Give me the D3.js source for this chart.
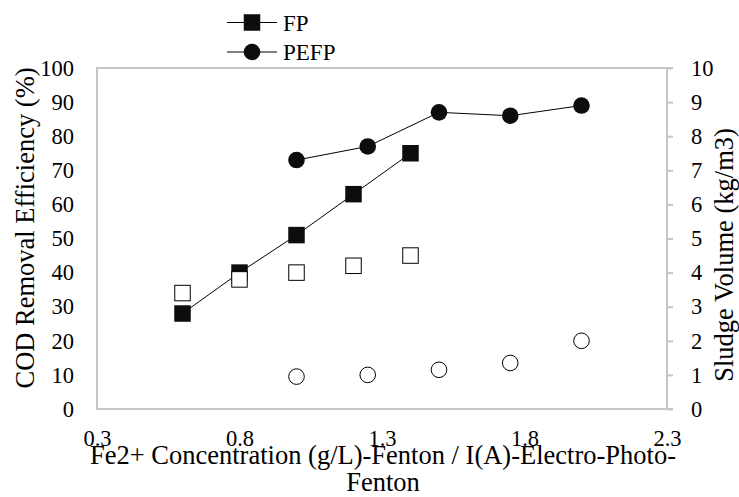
<!DOCTYPE html>
<html><head><meta charset="utf-8">
<script src="https://cdn.jsdelivr.net/npm/d3@7"></script>
<style>body{margin:0;background:#fff}svg{display:block}</style>
</head><body><svg id="c" width="739" height="497"></svg>
<script>
const fpX = [0.6, 0.8, 1.0, 1.2, 1.4];
const fpCOD = [28, 40, 51, 63, 75];
const fpSludge = [3.4, 3.8, 4.0, 4.2, 4.5];
const pefpX = [1.0, 1.25, 1.5, 1.75, 2.0];
const pefpCOD = [73, 77, 87, 86, 89];
const pefpSludge = [0.95, 1.0, 1.15, 1.35, 2.0];
const xTicks = [0.3, 0.8, 1.3, 1.8, 2.3];
const yLeftTicks = [0,10,20,30,40,50,60,70,80,90,100];
const yRightTicks = [0,1,2,3,4,5,6,7,8,9,10];
const seriesNames = ["FP", "PEFP"];

const FONT = "'Liberation Serif', 'Times New Roman', 'DejaVu Serif', serif";
const svg = d3.select("#c").style("font-family", FONT);
const L = 97, R = 667, T = 68, B = 409;
const x = d3.scaleLinear().domain([0.3, 2.3]).range([L, R]);
const yL = d3.scaleLinear().domain([0, 100]).range([B, T]);
const yR = d3.scaleLinear().domain([0, 10]).range([B, T]);
const gray = "#c6c6c6";
const FS = 22.5, TS = 26.5, LS = 23;

// frame
svg.append("line").attr("x1", L).attr("x2", R).attr("y1", T).attr("y2", T).attr("stroke", gray).attr("stroke-width", 2);
svg.append("line").attr("x1", L).attr("x2", R).attr("y1", B).attr("y2", B).attr("stroke", gray).attr("stroke-width", 2);
svg.append("line").attr("x1", L).attr("x2", L).attr("y1", T - 1).attr("y2", B + 1).attr("stroke", gray).attr("stroke-width", 2);

// right axis
const ra = svg.append("g").attr("transform", `translate(${R},0)`)
  .call(d3.axisRight(yR).tickValues(yRightTicks).tickSize(6).tickPadding(18).tickFormat(d3.format("d")));
ra.select(".domain").attr("stroke", gray).attr("stroke-width", 2).attr("d", `M6,${T}H0V${B}H6`);
ra.selectAll(".tick line").attr("stroke", gray).attr("stroke-width", 2);

// left axis labels
const la = svg.append("g").attr("transform", `translate(${L},0)`)
  .call(d3.axisLeft(yL).tickValues(yLeftTicks).tickSize(0).tickPadding(23).tickFormat(d3.format("d")));
la.select(".domain").remove();

// x axis labels
const xa = svg.append("g").attr("transform", `translate(0,${B})`)
  .call(d3.axisBottom(x).tickValues(xTicks).tickSize(0).tickPadding(21).tickFormat(d3.format(".1f")));
xa.select(".domain").remove();

[ra, la, xa].forEach(g => {
  g.attr("font-family", null).attr("font-size", null);
  g.selectAll(".tick text").style("font-family", FONT).style("font-size", FS + "px").attr("fill", "#000");
});

// axis titles
const addText = (s) => svg.append("text").style("font-family", FONT).style("font-size", s + "px").attr("fill", "#000");
addText(TS).attr("transform", `translate(34,228) rotate(-90)`).attr("text-anchor", "middle")
  .text("COD Removal Efficiency (%)");
addText(TS).attr("transform", `translate(733,255) rotate(-90)`).attr("text-anchor", "middle")
  .text("Sludge Volume (kg/m3)");
addText(TS).attr("x", 383).attr("y", 464).attr("text-anchor", "middle")
  .text("Fe2+ Concentration (g/L)-Fenton / I(A)-Electro-Photo-");
addText(TS).attr("x", 383).attr("y", 491).attr("text-anchor", "middle").text("Fenton");

const line = (xs, ys, sy) => d3.line().x((d, i) => x(xs[i])).y(d => sy(d))(ys);

// primary series
svg.append("path").attr("d", line(fpX, fpCOD, yL)).attr("fill", "none").attr("stroke", "#000").attr("stroke-width", 1);
svg.append("path").attr("d", line(pefpX, pefpCOD, yL)).attr("fill", "none").attr("stroke", "#000").attr("stroke-width", 1);
const sq = 16.5;
svg.selectAll(".fpm").data(fpCOD).enter().append("rect")
  .attr("x", (d, i) => x(fpX[i]) - sq / 2).attr("y", d => yL(d) - sq / 2).attr("width", sq).attr("height", sq).attr("fill", "#0d0d0d");
svg.selectAll(".pem").data(pefpCOD).enter().append("circle")
  .attr("cx", (d, i) => x(pefpX[i])).attr("cy", d => yL(d)).attr("r", 8.3).attr("fill", "#0d0d0d");

// secondary series (open markers)
const osq = 15.5;
svg.selectAll(".fps").data(fpSludge).enter().append("rect")
  .attr("x", (d, i) => x(fpX[i]) - osq / 2).attr("y", d => yR(d) - osq / 2).attr("width", osq).attr("height", osq)
  .attr("fill", "#fff").attr("stroke", "#000").attr("stroke-width", 1);
svg.selectAll(".pes").data(pefpSludge).enter().append("circle")
  .attr("cx", (d, i) => x(pefpX[i])).attr("cy", d => yR(d)).attr("r", 7.8)
  .attr("fill", "#fff").attr("stroke", "#000").attr("stroke-width", 1);

// legend
const leg = svg.append("g");
seriesNames.forEach((name, i) => {
  const cy = 22.5 + i * 29.5;
  leg.append("line").attr("x1", 227).attr("x2", 277).attr("y1", cy).attr("y2", cy).attr("stroke", "#000").attr("stroke-width", 1);
  if (i === 0) leg.append("rect").attr("x", 252 - sq / 2).attr("y", cy - sq / 2).attr("width", sq).attr("height", sq).attr("fill", "#0d0d0d");
  else leg.append("circle").attr("cx", 252).attr("cy", cy).attr("r", 8.3).attr("fill", "#0d0d0d");
  leg.append("text").style("font-family", FONT).style("font-size", LS + "px").attr("fill", "#000")
    .attr("x", 283).attr("y", cy + 8).text(name);
});
</script></body></html>
